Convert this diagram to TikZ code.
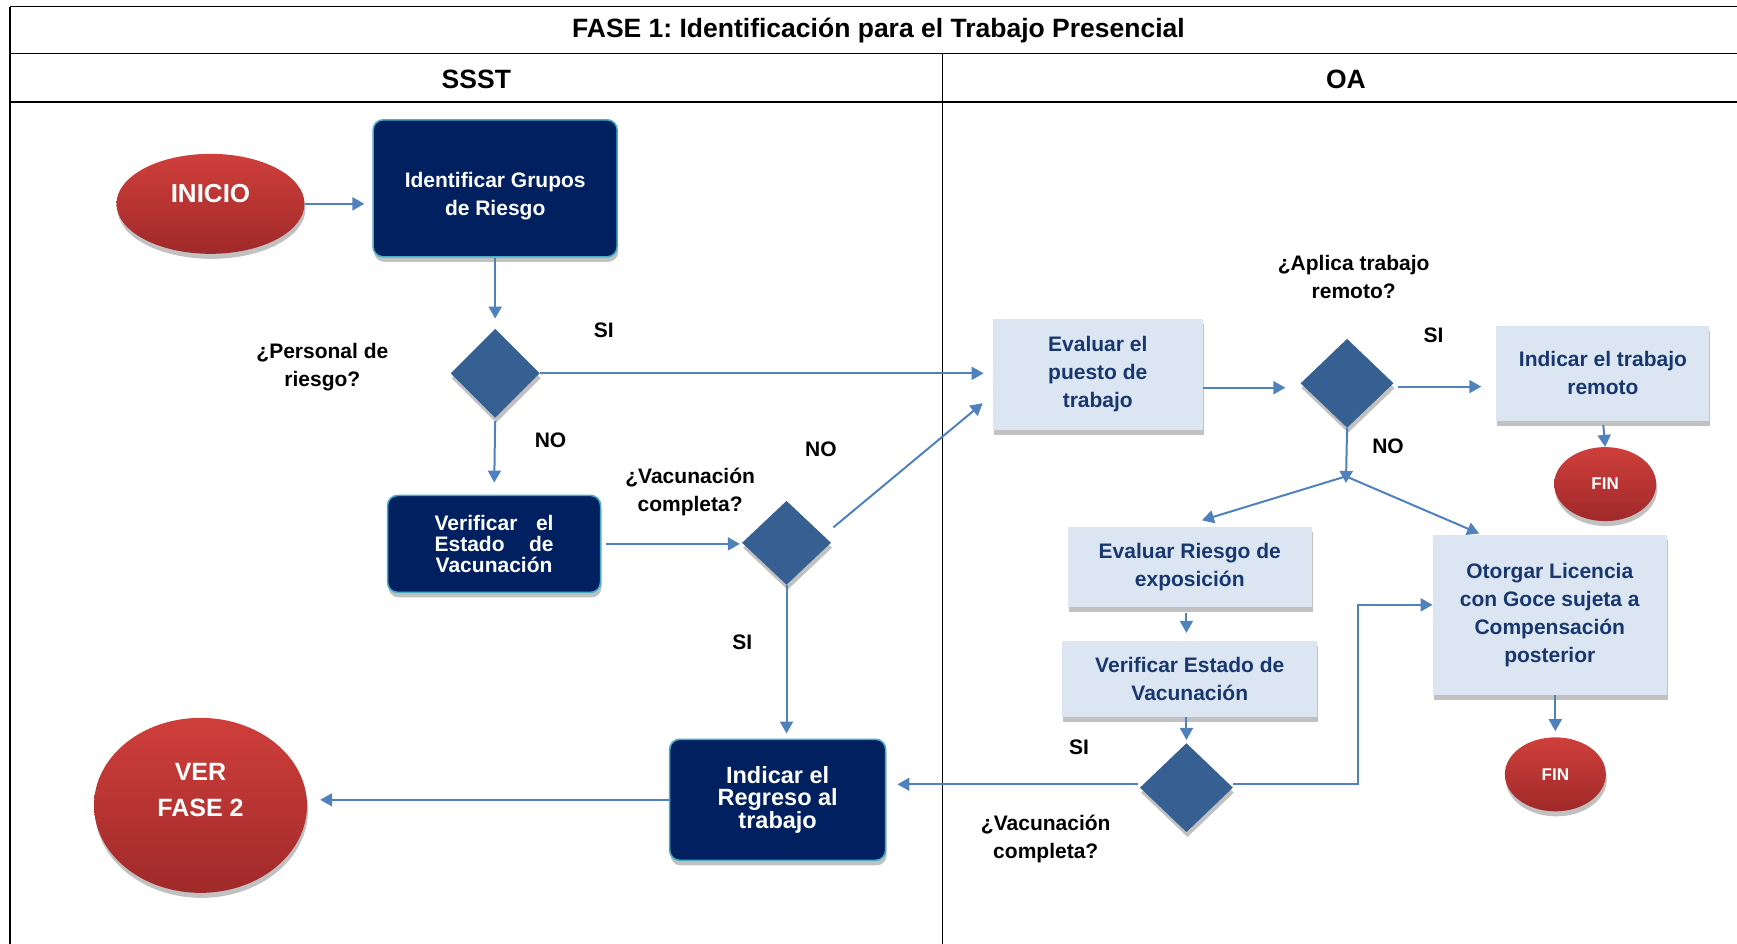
\documentclass[tikz,border=0pt]{standalone}
\usepackage{fontspec}
\setmainfont{Liberation Sans}
\usetikzlibrary{arrows.meta,shapes.geometric,shadows}
\frenchspacing

\definecolor{azulosc}{RGB}{0,32,96}
\definecolor{bordecaja}{RGB}{75,172,198}
\definecolor{azulrombo}{RGB}{55,96,146}
\definecolor{azulflecha}{RGB}{79,129,189}
\definecolor{celeste}{RGB}{220,230,242}
\definecolor{textoclaro}{RGB}{23,55,110}
\definecolor{rojoarr}{RGB}{207,63,59}
\definecolor{rojoab}{RGB}{160,41,42}

\tikzset{
  sombra/.style={drop shadow={shadow xshift=1pt, shadow yshift=-5pt, opacity=0.35, fill=black!70}},
  cajaosc/.style={rectangle, rounded corners=10pt, fill=azulosc, draw=bordecaja, line width=1.6pt,
    text=white, align=center, font=\bfseries\fontsize{21}{28.5}\selectfont, sombra},
  cajaclara/.style={rectangle, fill=celeste, text=textoclaro, align=center,
    font=\bfseries\fontsize{21}{28}\selectfont, sombra},
  decision/.style={diamond, fill=azulrombo, inner sep=0pt, sombra},
  terminal/.style={ellipse, top color=rojoarr, bottom color=rojoab, text=white, inner sep=0pt,
    align=center, sombra},
  etiqueta/.style={font=\bfseries\fontsize{21}{28}\selectfont, align=center},
  encabezado/.style={font=\bfseries\fontsize{26.5}{30}\selectfont},
  flecha/.style={draw=azulflecha, line width=2pt, -{Triangle[length=12pt,width=13pt]}},
  linea/.style={draw=black, line width=1.3pt},
}

\begin{document}
\begin{tikzpicture}[x=1.1078pt, y=-1.1078pt]
        \useasboundingbox (0,0) rectangle (1568,852);

        % Paso 1: Dibuja el marco de la tabla
        \draw[linea] (9,6) -- (1568,6);
        \draw[linea] (9,48) -- (1568,48);
        \draw[linea] (9,92) -- (1568,92);
        \draw[linea] (9,6) -- (9,852);
        \draw[draw=black, line width=1pt] (851,48) -- (851,852);
        \node[encabezado] (titulo) at (793,28) {FASE 1: Identificación para el Trabajo Presencial};
        \node[encabezado] (ssst) at (430,72) {SSST};
        \node[encabezado] (oa) at (1215,72) {OA};

        % Paso 2: Nodos de la columna SSST
        \node[terminal, minimum width=188pt, minimum height=100pt, font=\bfseries\fontsize{26}{30}\selectfont] (inicio) at (190,184) {INICIO\\[-10pt]\mbox{}};
        \node[cajaosc, minimum width=244pt, minimum height=137pt] (ident) at (447,170) {\mbox{}\\[2pt]Identificar Grupos\\de Riesgo};
        \node[decision, minimum width=89pt, minimum height=89pt] (dec1) at (447,337) {};
        \node[cajaosc, minimum width=213pt, minimum height=97pt, text width=119pt, font=\bfseries\fontsize{21}{21}\selectfont] (verif) at (446,491) {Verificar\hfill el\\Estado\hfill de\\Vacunación};
        \node[decision, minimum width=89pt, minimum height=84pt] (dec2) at (710,490) {};
        \node[cajaosc, minimum width=216pt, minimum height=121pt, font=\bfseries\fontsize{23.5}{22}\selectfont] (regreso) at (702,722) {Indicar el\\Regreso al\\trabajo};
        \node[terminal, minimum width=213pt, minimum height=175pt, font=\bfseries\fontsize{25}{36.5}\selectfont] (fase2) at (181,727) {VER\\FASE 2\\[-5.5pt]\mbox{}};

        % Paso 3: Nodos de la columna OA
        \node[cajaclara, minimum width=210pt, minimum height=111pt] (evalp) at (991,338) {Evaluar el\\puesto de\\trabajo};
        \node[decision, minimum width=93pt, minimum height=89pt] (dec3) at (1216,346) {};
        \node[cajaclara, minimum width=213pt, minimum height=95pt] (remoto) at (1447,337) {Indicar el trabajo\\remoto};
        \node[terminal, minimum width=102pt, minimum height=74pt, font=\bfseries\fontsize{17}{20}\selectfont] (fin1) at (1449,437) {FIN};
        \node[cajaclara, minimum width=244pt, minimum height=80pt] (evalr) at (1074,512) {Evaluar Riesgo de\\exposición};
        \node[cajaclara, minimum width=255pt, minimum height=76pt] (verife) at (1074,613) {Verificar Estado de\\Vacunación};
        \node[decision, minimum width=93pt, minimum height=89pt] (dec4) at (1071,711) {};
        \node[cajaclara, minimum width=234pt, minimum height=160pt] (otorgar) at (1399,555) {Otorgar Licencia\\con Goce sujeta a\\Compensación\\posterior};
        \node[terminal, minimum width=101pt, minimum height=74pt, font=\bfseries\fontsize{17}{20}\selectfont] (fin2) at (1404,699) {FIN};

        % Paso 4: Etiquetas de las decisiones
        \node[etiqueta] (lpers) at (291,331) {¿Personal de\\riesgo?};
        \node[etiqueta] (lsi1) at (545,298) {SI};
        \node[etiqueta] (lno1) at (497,397) {NO};
        \node[etiqueta] (lvac1) at (623,444) {¿Vacunación\\completa?};
        \node[etiqueta] (lno2) at (741,406) {NO};
        \node[etiqueta] (lsi2) at (670,580) {SI};
        \node[etiqueta] (lapl) at (1222,250) {¿Aplica trabajo\\remoto?};
        \node[etiqueta] (lsi3) at (1294,303) {SI};
        \node[etiqueta] (lno3) at (1253,403) {NO};
        \node[etiqueta] (lsi4) at (974,675) {SI};
        \node[etiqueta] (lvac2) at (944,757) {¿Vacunación\\completa?};

        % Paso 5: Conectores
        \draw[flecha, shorten >=8pt] (inicio.east) -- (inicio.east -| ident.west);
        \draw[flecha, shorten >=10pt] (ident.south) -- (dec1.north);
        \draw[flecha, shorten >=9pt] (dec1.east) -- (dec1.east -| evalp.west);
        \draw[flecha, shorten <=3pt, shorten >=12pt] (dec1.south) -- (verif.north);
        \draw[flecha, shorten <=5pt, shorten >=2pt] (verif.east) -- (verif.east -| dec2.west);
        \draw[flecha] ([shift={(2,-14)}]dec2.east) -- ([shift={(-9,26)}]evalp.west);
        \draw[flecha, shorten >=5pt] (dec2.south) -- (dec2.south |- regreso.north);
        \draw[flecha, shorten >=13pt] (regreso.west) -- (regreso.west -| fase2.east);
        \draw[flecha, shorten >=15pt] ([shift={(0,12)}]evalp.east) -- ([shift={(0,12)}]evalp.east -| dec3.west);
        \draw[flecha, shorten <=4pt, shorten >=15pt] ([shift={(0,3)}]dec3.east) -- ([shift={(0,3)}]dec3.east -| remoto.west);
        \draw[flecha, shorten <=4pt] (remoto.south) -- (fin1.north);
        \coordinate (rama) at (1215,436);
        \draw[flecha] (dec3.south) -- (rama);
        \draw[flecha] ([shift={(0,-6)}]rama) -- ([shift={(11,-6)}]evalr.north);
        \draw[flecha] ([shift={(0,-6)}]rama) -- ([shift={(42,-1)}]otorgar.north west);
        \draw[flecha, shorten <=6pt, shorten >=8pt] (dec4.north |- evalr.south) -- (dec4.north |- verife.north);
        \draw[flecha, shorten >=3pt] (dec4.north |- verife.south) -- (dec4.north);
        \draw[flecha, shorten <=2pt, shorten >=11pt] ([shift={(0,-3)}]dec4.west) -- ([shift={(0,-3)}]dec4.west -| regreso.east);
        \draw[flecha] ([shift={(0,-3)}]dec4.east) -- ++(113,0) |- ([shift={(0,-9)}]otorgar.west);
        \draw[flecha, shorten >=6pt] (fin2.north |- otorgar.south) -- (fin2.north);
\end{tikzpicture}
\end{document}
